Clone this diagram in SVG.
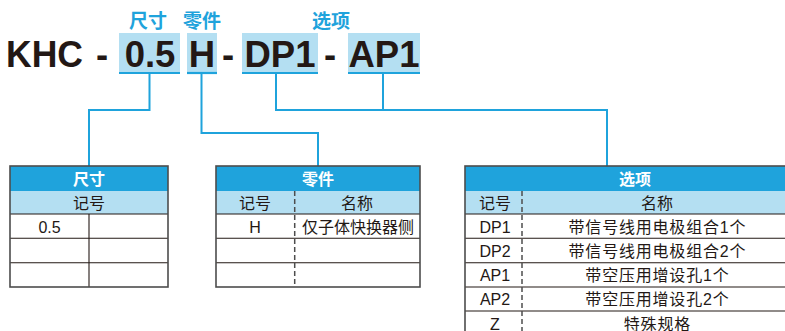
<svg xmlns="http://www.w3.org/2000/svg" width="785" height="331" viewBox="0 0 785 331">
<style>
.title{font-family:"Liberation Sans",Arial,sans-serif;font-weight:bold;font-size:36.5px;fill:#231815}
.lbl{font-family:"Noto Sans CJK SC",sans-serif;font-weight:bold;font-size:19px;fill:#1fa3dc;text-anchor:middle}
.hl{fill:#b4dff2}
.ul{stroke:#1fa3dc;stroke-width:2.2;fill:none}
.conn{stroke:#1fa3dc;stroke-width:2;fill:none}
.hdr{fill:#1fa3dc}
.sub{fill:#b4dff2}
.frame{fill:none;stroke:#4d4d4d;stroke-width:1.6}
.row{stroke:#231815;stroke-width:1.1}
.dash{stroke:#4d4d4d;stroke-width:1.5;stroke-dasharray:5 3}
.ht{font-family:"Noto Sans CJK SC",sans-serif;font-weight:bold;font-size:16px;fill:#ffffff;text-anchor:middle}
.t{font-family:"Liberation Sans","Noto Sans CJK SC",sans-serif;font-size:16px;fill:#231815;text-anchor:middle}
.w{letter-spacing:0.8px}
</style>

<g id="model-code">
  <rect class="hl" x="119" y="33" width="61" height="40"/>
  <rect class="hl" x="187" y="33" width="30" height="40"/>
  <rect class="hl" x="242" y="33" width="76" height="40"/>
  <rect class="hl" x="348" y="33" width="72" height="40"/>
  <line class="ul" x1="119" y1="73" x2="180" y2="73"/>
  <line class="ul" x1="187" y1="73" x2="217" y2="73"/>
  <line class="ul" x1="242" y1="73" x2="318" y2="73"/>
  <line class="ul" x1="348" y1="73" x2="420" y2="73"/>
  <text class="title" x="6" y="67" textLength="77" lengthAdjust="spacingAndGlyphs">KHC</text>
  <text class="title" x="102" y="67" text-anchor="middle">-</text>
  <text class="title" x="150" y="67" text-anchor="middle">0.5</text>
  <text class="title" x="202" y="67" text-anchor="middle">H</text>
  <text class="title" x="228" y="67" text-anchor="middle">-</text>
  <text class="title" x="280" y="67" text-anchor="middle">DP1</text>
  <text class="title" x="330" y="67" text-anchor="middle">-</text>
  <text class="title" x="384" y="67" text-anchor="middle">AP1</text>
  <text class="lbl" x="148" y="28">尺寸</text>
  <text class="lbl" x="202" y="28">零件</text>
  <text class="lbl" x="331" y="28">选项</text>
</g>

<g id="connectors">
  <polyline class="conn" points="149.5,73 149.5,110 89,110 89,166"/>
  <polyline class="conn" points="201.5,73 201.5,133 318,133 318,166"/>
  <polyline class="conn" points="276,73 276,110 607,110 607,166"/>
  <line class="conn" x1="383" y1="73" x2="383" y2="110"/>
</g>

<g id="table-size">
  <rect class="hdr" x="10" y="166" width="158" height="25"/>
  <rect class="sub" x="10" y="191" width="158" height="23"/>
  <line class="row" x1="10" y1="214" x2="168" y2="214"/>
  <line class="row" x1="10" y1="238.3" x2="168" y2="238.3"/>
  <line class="row" x1="10" y1="262.7" x2="168" y2="262.7"/>
  <line class="row" x1="89" y1="214" x2="89" y2="287"/>
  <rect class="frame" x="10" y="166" width="158" height="121"/>
  <text class="ht" x="89" y="185">尺寸</text>
  <text class="t" x="89" y="208.5">记号</text>
  <text class="t" x="49.5" y="232.5">0.5</text>
</g>

<g id="table-part">
  <rect class="hdr" x="216" y="166" width="204" height="25"/>
  <rect class="sub" x="216" y="191" width="204" height="23"/>
  <line class="row" x1="216" y1="214" x2="420" y2="214"/>
  <line class="row" x1="216" y1="238.3" x2="420" y2="238.3"/>
  <line class="row" x1="216" y1="262.7" x2="420" y2="262.7"/>
  <line class="dash" x1="294.7" y1="191" x2="294.7" y2="287"/>
  <rect class="frame" x="216" y="166" width="204" height="121"/>
  <text class="ht" x="318" y="185">零件</text>
  <text class="t" x="255" y="208.5">记号</text>
  <text class="t" x="357" y="208.5">名称</text>
  <text class="t" x="255" y="232.5">H</text>
  <text class="t" x="358" y="232.5">仅子体快换器侧</text>
</g>

<g id="table-option">
  <rect class="hdr" x="465" y="166" width="340" height="25"/>
  <rect class="sub" x="465" y="191" width="340" height="23"/>
  <line class="row" x1="465" y1="214" x2="805" y2="214"/>
  <line class="row" x1="465" y1="238.3" x2="805" y2="238.3"/>
  <line class="row" x1="465" y1="262.7" x2="805" y2="262.7"/>
  <line class="row" x1="465" y1="287" x2="805" y2="287"/>
  <line class="row" x1="465" y1="311" x2="805" y2="311"/>
  <line class="dash" x1="522" y1="191" x2="522" y2="335"/>
  <rect class="frame" x="465" y="166" width="340" height="175"/>
  <text class="ht" x="635" y="185">选项</text>
  <text class="t" x="495" y="208.5">记号</text>
  <text class="t" x="657" y="208.5">名称</text>
  <text class="t" x="495" y="232.5">DP1</text>
  <text class="t w" x="657.4" y="232.5">带信号线用电极组合1个</text>
  <text class="t" x="495" y="256.8">DP2</text>
  <text class="t w" x="657.4" y="256.8">带信号线用电极组合2个</text>
  <text class="t" x="495" y="281">AP1</text>
  <text class="t w" x="657.4" y="281">带空压用增设孔1个</text>
  <text class="t" x="495" y="305.3">AP2</text>
  <text class="t w" x="657.4" y="305.3">带空压用增设孔2个</text>
  <text class="t" x="495" y="329.5">Z</text>
  <text class="t w" x="657.4" y="329.5">特殊规格</text>
</g>
</svg>
